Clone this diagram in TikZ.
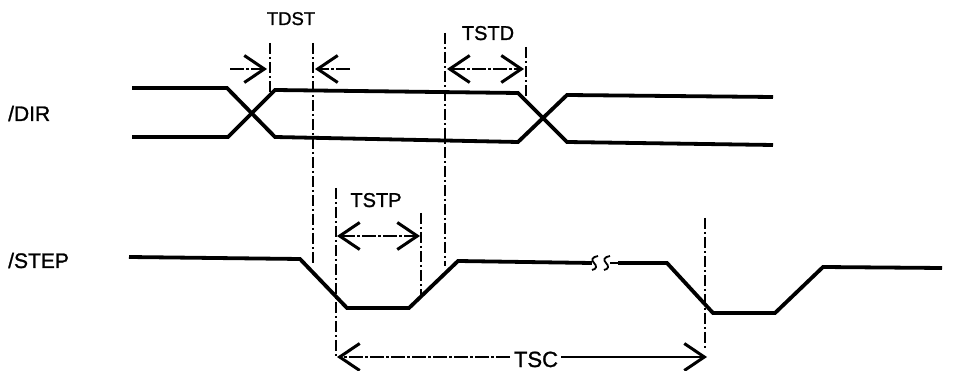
\documentclass[tikz,border=0pt]{standalone}
\usepackage{fontspec}
\setmainfont{Liberation Sans}[FakeBold=1.2]
\usetikzlibrary{arrows.meta}
\tikzset{
  sig/.style={line width=3.8pt, line join=miter, line cap=butt},
  guide/.style={line width=1.3pt, dash pattern=on 11pt off 3pt on 2pt off 3pt},
  dim/.style={line width=1.1pt, dash pattern=on 14pt off 2pt on 3pt off 2pt},
  dimsolid/.style={line width=1.3pt},
  barb/.tip={Straight Barb[length=20pt,width=27pt,line width=3pt]},
  tip/.style={-barb},
  tips/.style={barb-barb},
  lbl/.style={inner sep=0pt, font=\fontsize{20}{22}\selectfont},
  sname/.style={inner sep=0pt, font=\fontsize{21}{23}\selectfont},
}
\begin{document}
\begin{tikzpicture}[x=1pt,y=-1pt]
\useasboundingbox (0,0) rectangle (956,371);
% signal names
\node[sname, anchor=base west] (ldir) at (8,121) {/DIR};
\node[sname, anchor=base west] (lstep) at (8,268) {/STEP};
% DIR bus
\draw[sig] (132,88) -- (227,88) -- (275,137) -- (518,142) -- (567,95) -- (773,97);
\draw[sig] (132,137) -- (228,137) -- (275,90) -- (518,93) -- (567,142) -- (773,145);
% STEP signal
\draw[sig] (129,257) -- (300,259) -- (347,308) -- (409,308) -- (458,261) -- (592,263);
\draw[line width=1.8pt] (598,256) .. controls (592,257) and (591,260) .. (594,263) .. controls (597,266) and (597,269) .. (592,270);
\draw[line width=1.8pt] (610,256) .. controls (604,257) and (603,260) .. (606,263) .. controls (609,266) and (609,269) .. (604,270);
\draw[line width=2pt] (610,263) -- (620,263);
\draw[sig] (618,263) -- (667,263) -- (713,313) -- (775,313) -- (823,267) -- (942,268);
% guide lines
\coordinate (g1t) at (270,43); \coordinate (g1b) at (270,92);
\coordinate (g2t) at (313,43); \coordinate (g2b) at (313,265);
\coordinate (g3t) at (336,188); \coordinate (g3b) at (336,358);
\coordinate (g4t) at (421,213); \coordinate (g4b) at (421,296);
\coordinate (g5t) at (445,33); \coordinate (g5b) at (445,266);
\coordinate (g6t) at (526,47); \coordinate (g6b) at (526,99);
\coordinate (g7t) at (705,218); \coordinate (g7b) at (705,350);
\foreach \g in {1,...,7} \draw[guide] (g\g t) -- (g\g b);
% TDST
\node[lbl, font=\fontsize{18.5}{20}\selectfont, anchor=base] (tdst) at (291,25) {TDST};
\coordinate (a1) at (230,69); \coordinate (a2) at (267,69);
\coordinate (a3) at (350,69); \coordinate (a4) at (315,69);
\draw[dim, tip] (a1) -- (a2);
\draw[dim, tip] (a3) -- (a4);
% TSTD
\node[lbl, anchor=base] (tstd) at (488,40) {TSTD};
\coordinate (b1) at (447,69); \coordinate (b2) at (524,69);
\draw[dim, tips] (b1) -- (b2);
% TSTP
\node[lbl, anchor=base] (tstp) at (376,207) {TSTP};
\coordinate (c1) at (337,236); \coordinate (c2) at (420,236);
\draw[dim, tips] (c1) -- (c2);
% TSC
\node[lbl, font=\fontsize{22}{24}\selectfont, anchor=base] (tsc) at (536,367) {TSC};
\coordinate (d1) at (337,357); \coordinate (d2) at (707,357);
\coordinate (d1e) at ([xshift=-4pt]tsc.west |- d1);
\coordinate (d2s) at ([xshift=3pt]tsc.east |- d2);
\draw[dim, tip] (d1e) -- (d1);
\draw[dimsolid, tip] (d2s) -- (d2);
\end{tikzpicture}
\end{document}
